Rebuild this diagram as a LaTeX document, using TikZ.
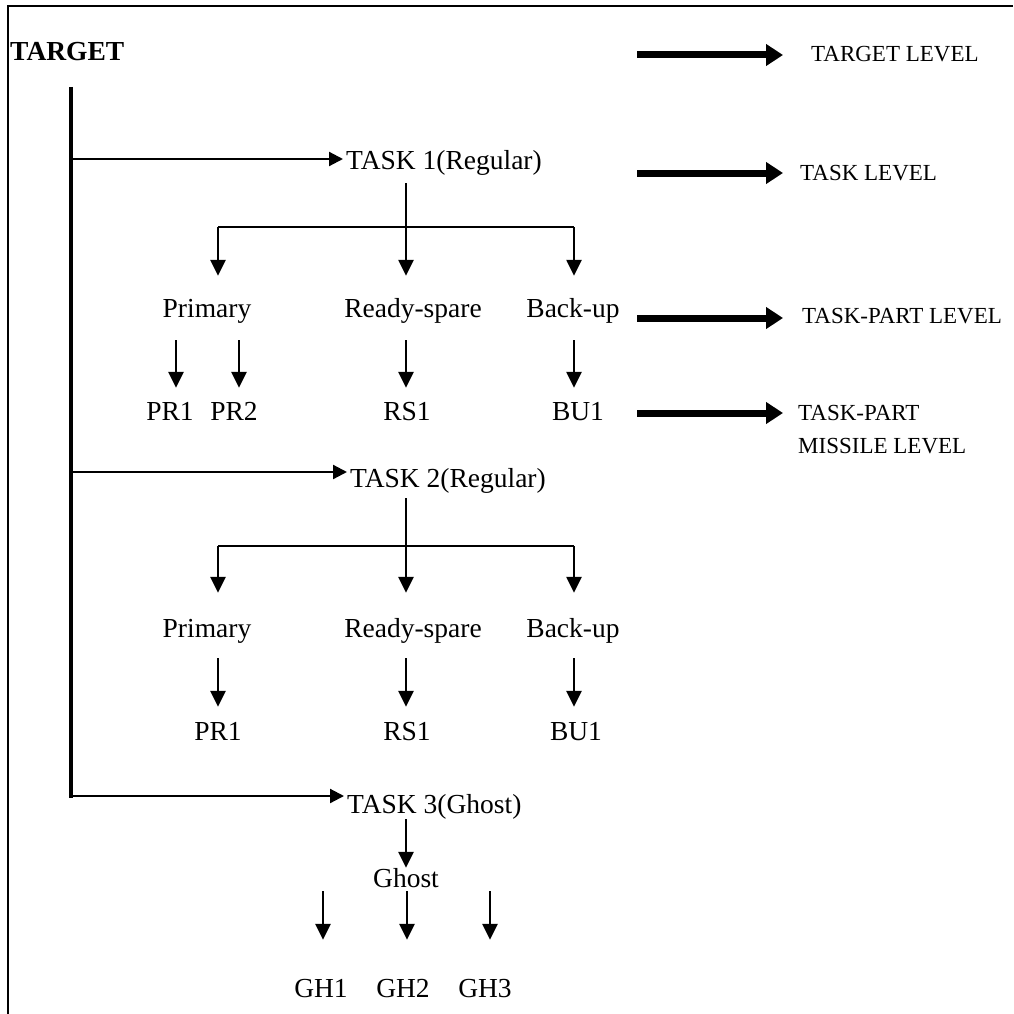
\documentclass[tikz,border=0pt]{standalone}
\usepackage{fontspec}
\setmainfont{Liberation Serif}
\usetikzlibrary{arrows.meta,positioning}

\begin{document}
\begin{tikzpicture}[x=1pt, y=-1pt,
    >={Triangle[length=16pt,width=15pt]},
    txt/.style={inner sep=0pt, anchor=base, text height=19pt, text depth=6pt,
                font=\fontsize{27.5}{30}\selectfont},
    lvltxt/.style={inner sep=0pt, anchor=base west, align=left,
                font=\fontsize{23}{33}\selectfont},
    fork/.style={line width=1.6pt},
    down/.style={->, line width=2.5pt},
    branch/.style={-{Triangle[length=14pt,width=14pt]}, line width=2.2pt, shorten >=3pt},
    lvlarrow/.style={-{Triangle[length=17pt,width=21pt]}, line width=7pt}]

    % --- 0. 画布大小和外框 ---
    % 坐标单位就是原图的像素, y 轴向下
    \useasboundingbox (0,0) rectangle (1013,1014);
    \draw[line width=2.5pt] (8,1014) -- (8,6) -- (1013,6);

    % --- 1. TARGET 和左边的粗竖线 ---
    \node[inner sep=0pt, anchor=base west, font=\fontsize{27.5}{30}\selectfont\bfseries]
        (target) at (10,61) {TARGET};
    \coordinate (bartop) at (71,87);
    \coordinate (barbot) at (71,798);
    \draw[line width=4.5pt] (bartop) -- (barbot);

    % 竖线上三个分支点
    \coordinate (b1) at (71,159);
    \coordinate (b2) at (71,472);
    \coordinate (b3) at (71,796);

    % --- 2. TASK 1 ---
    \node[txt, anchor=base west] (task1) at (346,169) {TASK 1(Regular)};
    \draw[branch] (b1) -- (b1 -| task1.west);

    % (a) 分叉线
    \coordinate (f1l) at (218,227);
    \coordinate (f1m) at (406,227);
    \coordinate (f1r) at (574,227);
    \draw[fork, shorten <=8pt] (f1m |- task1.south) -- (f1m);
    \draw[fork] (f1l) -- (f1r);

    % (b) 三个 task-part
    \node[txt] (prim1)  at (207,317) {Primary};
    \node[txt] (ready1) at (413,317) {Ready-spare};
    \node[txt] (back1)  at (573,317) {Back-up};
    \draw[down, shorten >=22pt] (f1l) -- (f1l |- prim1.north);
    \draw[down, shorten >=22pt] (f1m) -- (f1m |- ready1.north);
    \draw[down, shorten >=22pt] (f1r) -- (f1r |- back1.north);

    % (c) 导弹
    \node[txt] (pr11) at (170,420) {PR1};
    \node[txt] (pr12) at (234,420) {PR2};
    \node[txt] (rs11) at (407,420) {RS1};
    \node[txt] (bu11) at (578,420) {BU1};
    \coordinate (m11) at (176,340);
    \coordinate (m12) at (239,340);
    \coordinate (m13) at (406,340);
    \coordinate (m14) at (574,340);
    \draw[down, shorten >=13pt] (m11) -- (m11 |- pr11.north);
    \draw[down, shorten >=13pt] (m12) -- (m12 |- pr12.north);
    \draw[down, shorten >=13pt] (m13) -- (m13 |- rs11.north);
    \draw[down, shorten >=13pt] (m14) -- (m14 |- bu11.north);

    % --- 3. TASK 2 ---
    \node[txt, anchor=base west] (task2) at (350,487) {TASK 2(Regular)};
    \draw[branch] (b2) -- (b2 -| task2.west);

    \coordinate (f2l) at (218,546);
    \coordinate (f2m) at (406,546);
    \coordinate (f2r) at (574,546);
    \draw[fork, shorten <=5pt] (f2m |- task2.south) -- (f2m);
    \draw[fork] (f2l) -- (f2r);

    \node[txt] (prim2)  at (207,637) {Primary};
    \node[txt] (ready2) at (413,637) {Ready-spare};
    \node[txt] (back2)  at (573,637) {Back-up};
    \draw[down, shorten >=25pt] (f2l) -- (f2l |- prim2.north);
    \draw[down, shorten >=25pt] (f2m) -- (f2m |- ready2.north);
    \draw[down, shorten >=25pt] (f2r) -- (f2r |- back2.north);

    \node[txt] (pr21) at (218,740) {PR1};
    \node[txt] (rs21) at (407,740) {RS1};
    \node[txt] (bu21) at (576,740) {BU1};
    \coordinate (m21) at (218,658);
    \coordinate (m22) at (406,658);
    \coordinate (m23) at (574,658);
    \draw[down, shorten >=14pt] (m21) -- (m21 |- pr21.north);
    \draw[down, shorten >=14pt] (m22) -- (m22 |- rs21.north);
    \draw[down, shorten >=14pt] (m23) -- (m23 |- bu21.north);

    % --- 4. TASK 3 (Ghost) ---
    \node[txt, anchor=base west] (task3) at (347,813) {TASK 3(Ghost)};
    \draw[branch] (b3) -- (b3 -| task3.west);

    \node[txt] (ghost) at (406,887) {Ghost};
    \draw[down] (ghost |- task3.south) -- (ghost.north);

    \node[txt] (gh1) at (321,997) {GH1};
    \node[txt] (gh2) at (403,997) {GH2};
    \node[txt] (gh3) at (485,997) {GH3};
    \coordinate (g1) at (323,891);
    \coordinate (g2) at (407,891);
    \coordinate (g3) at (490,891);
    \draw[down, shorten >=38pt] (g1) -- (g1 |- gh1.north);
    \draw[down, shorten >=38pt] (g2) -- (g2 |- gh2.north);
    \draw[down, shorten >=38pt] (g3) -- (g3 |- gh3.north);

    % --- 5. 右边的层级说明 ---
    \coordinate (s1) at (637,55);
    \coordinate (e1) at (783,55);
    \draw[lvlarrow] (s1) -- (e1);
    \node[lvltxt] (lvl1) at (811,62) {TARGET LEVEL};

    \coordinate (s2) at (637,173);
    \coordinate (e2) at (783,173);
    \draw[lvlarrow] (s2) -- (e2);
    \node[lvltxt] (lvl2) at (800,180) {TASK LEVEL};

    \coordinate (s3) at (637,318);
    \coordinate (e3) at (783,318);
    \draw[lvlarrow] (s3) -- (e3);
    \node[lvltxt] (lvl3) at (802,323) {TASK-PART LEVEL};

    % 两行的说明, base 是最后一行的基线
    \coordinate (s4) at (637,413);
    \coordinate (e4) at (783,413);
    \draw[lvlarrow] (s4) -- (e4);
    \node[lvltxt] (lvl4) at (798,453) {TASK-PART\\MISSILE LEVEL};

\end{tikzpicture}
\end{document}
